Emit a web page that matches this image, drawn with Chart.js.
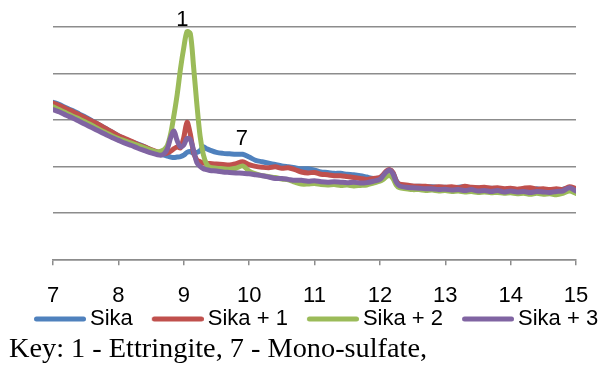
<!DOCTYPE html>
<html>
<head>
<meta charset="utf-8">
<script src="https://cdn.jsdelivr.net/npm/chart.js@4.4.1/dist/chart.umd.min.js"></script>
<style>
  html, body { margin: 0; padding: 0; background: #fff; }
  #wrap { position: relative; width: 607px; height: 365px; overflow: hidden; }
  #c { position: absolute; left: 0; top: 0; }
  #key { position: absolute; left: 9px; top: 334px; font-family: "Liberation Serif", "Times New Roman", serif;
         font-size: 28.3px; line-height: 28px; color: #000; white-space: nowrap; }
</style>
</head>
<body>
<div id="wrap">
  <canvas id="c" width="607" height="365"></canvas>
  <div id="key">Key: 1 - Ettringite, 7 - Mono-sulfate,</div>
</div>
<script>
// ---- data ----
const xValues = [
  7.0,7.1,7.2,7.3,7.4,7.5,7.6,7.7,7.8,7.9,8.0,8.1,8.2,8.3,8.4,8.5,8.6,
  8.65,8.7,8.75,8.8,8.85,8.9,8.95,9.0,9.05,9.1,9.15,9.2,9.25,9.3,9.35,
  9.4,9.5,9.6,9.7,9.8,9.9,10.0,10.1,10.2,10.3,10.4,10.5,10.6,10.7,10.8,10.9,11.0,11.1,11.2,11.3,11.4,11.5,11.6,11.7,11.8,11.9,12.0,
  12.05,12.1,12.15,12.2,12.25,
  12.3,12.4,12.5,12.6,12.7,12.8,12.9,13.0,13.1,13.2,13.3,13.4,13.5,13.6,13.7,13.8,13.9,14.0,14.1,14.2,14.3,14.4,14.5,14.6,14.7,14.8,14.9,15.0
];
const sika = [
  3.38,3.33,3.26,3.20,3.13,3.06,2.98,2.90,2.82,2.74,2.66,2.59,2.53,2.48,2.42,2.35,2.30,
  2.27,2.24,2.22,2.20,2.19,2.20,2.21,2.24,2.30,2.32,2.28,2.30,2.34,2.42,2.38,
  2.35,2.30,2.28,2.27,2.26,2.26,2.20,2.13,2.10,2.07,2.04,2.01,1.99,1.97,1.95,1.95,1.92,1.88,1.87,1.85,1.85,1.83,1.82,1.80,1.77,1.74,1.75,
  1.80,1.88,1.92,1.86,1.70,
  1.60,1.58,1.57,1.57,1.56,1.56,1.55,1.55,1.54,1.55,1.56,1.53,1.54,1.52,1.53,1.52,1.51,1.52,1.50,1.51,1.50,1.52,1.49,1.50,1.49,1.51,1.53,1.50
];
const sika1 = [
  3.36,3.31,3.24,3.18,3.11,3.04,2.97,2.90,2.82,2.74,2.66,2.60,2.54,2.47,2.42,2.36,2.31,
  2.28,2.27,2.29,2.33,2.38,2.42,2.40,2.62,2.95,2.70,2.30,2.14,2.10,2.07,2.06,
  2.06,2.05,2.04,2.03,2.06,2.10,2.04,2.00,1.98,1.97,1.99,1.96,1.97,1.93,1.88,1.86,1.87,1.83,1.82,1.80,1.80,1.78,1.76,1.74,1.72,1.74,1.76,
  1.82,1.90,1.93,1.87,1.68,
  1.62,1.60,1.58,1.57,1.57,1.55,1.56,1.55,1.56,1.54,1.57,1.55,1.54,1.55,1.53,1.54,1.52,1.53,1.51,1.53,1.54,1.51,1.52,1.50,1.52,1.50,1.56,1.52
];
const sika2 = [
  3.28,3.22,3.15,3.08,3.02,2.95,2.88,2.80,2.73,2.66,2.60,2.55,2.50,2.45,2.40,2.35,2.31,
  2.33,2.36,2.45,2.70,3.10,3.55,4.10,4.55,4.90,4.86,4.15,3.35,2.65,2.25,2.05,
  1.98,1.96,1.95,1.94,1.96,2.01,1.90,1.84,1.80,1.78,1.76,1.73,1.71,1.66,1.62,1.62,1.63,1.61,1.60,1.61,1.59,1.60,1.58,1.59,1.60,1.64,1.68,
  1.72,1.78,1.80,1.74,1.60,
  1.54,1.52,1.50,1.50,1.48,1.49,1.47,1.48,1.46,1.47,1.45,1.46,1.44,1.45,1.43,1.44,1.42,1.43,1.41,1.42,1.40,1.42,1.40,1.41,1.39,1.42,1.47,1.42
];
const sika3 = [
  3.22,3.17,3.10,3.04,2.97,2.90,2.83,2.76,2.69,2.62,2.56,2.50,2.45,2.39,2.34,2.29,2.25,
  2.24,2.27,2.38,2.62,2.76,2.55,2.42,2.46,2.60,2.58,2.35,2.08,2.00,1.95,1.93,
  1.91,1.90,1.88,1.87,1.86,1.85,1.84,1.82,1.80,1.77,1.74,1.74,1.72,1.70,1.70,1.68,1.69,1.67,1.66,1.67,1.66,1.65,1.66,1.64,1.65,1.68,1.72,
  1.80,1.88,1.92,1.84,1.66,
  1.58,1.55,1.54,1.53,1.52,1.52,1.50,1.51,1.49,1.50,1.48,1.50,1.47,1.48,1.46,1.48,1.45,1.47,1.45,1.46,1.44,1.46,1.45,1.44,1.46,1.47,1.54,1.47
];
const seriesNames = ['Sika', 'Sika + 1', 'Sika + 2', 'Sika + 3'];
const seriesColors = ['#4F81BD', '#C0504D', '#9BBB59', '#8064A2'];
const xTicks = [7, 8, 9, 10, 11, 12, 13, 14, 15];
const peakLabels = ['1', '7'];
const peakX = [8.98, 9.89];
const peakY = [5.19, 2.63];

// ---- build ----
const allSeries = [sika, sika1, sika2, sika3];
const datasets = allSeries.map((ys, i) => ({
  label: seriesNames[i],
  data: xValues.map((x, j) => ({ x: x, y: ys[j] })),
  borderColor: seriesColors[i],
  backgroundColor: seriesColors[i],
  borderWidth: 5,
  borderCapStyle: 'round',
  borderJoinStyle: 'round',
  pointRadius: 0,
  tension: 0.3,
  fill: false,
  order: allSeries.length - i
}));

// legend swatch: a short thick line, drawn as a point-style image
function legendSwatch(color) {
  const c = document.createElement('canvas');
  c.width = 76; c.height = 12;
  const g = c.getContext('2d');
  g.strokeStyle = color; g.lineWidth = 5; g.lineCap = 'round';
  g.beginPath(); g.moveTo(26.5, 6); g.lineTo(73.5, 6); g.stroke();
  return c;
}
const swatches = seriesColors.map(legendSwatch);

const peakLabelPlugin = {
  id: 'peakLabels',
  afterDraw(chart) {
    const ctx = chart.ctx;
    const xs = chart.scales.x, ys = chart.scales.y;
    ctx.save();
    ctx.font = '22px "Liberation Sans", Arial, sans-serif';
    ctx.fillStyle = '#000';
    ctx.textAlign = 'center';
    ctx.textBaseline = 'alphabetic';
    peakLabels.forEach((t, i) => {
      ctx.fillText(t, xs.getPixelForValue(peakX[i]), ys.getPixelForValue(peakY[i]) + 8);
    });
    ctx.restore();
  }
};

new Chart(document.getElementById('c'), {
  type: 'line',
  data: { datasets: datasets },
  plugins: [peakLabelPlugin],
  options: {
    responsive: false,
    animation: false,
    events: [],
    layout: { padding: { top: 27, bottom: 25, left: 15, right: 0 } },
    plugins: {
      tooltip: { enabled: false },
      legend: {
        position: 'bottom',
        align: 'start',
        labels: {
          usePointStyle: true,
          pointStyleWidth: 62,
          padding: 2,
          color: '#000',
          font: { family: '"Liberation Sans", Arial, sans-serif', size: 22 },
          generateLabels: chart => Chart.defaults.plugins.legend.labels.generateLabels(chart)
            .map(item => Object.assign(item, { pointStyle: swatches[item.datasetIndex] })),
          sort: (a, b) => a.datasetIndex - b.datasetIndex
        }
      }
    },
    scales: {
      x: {
        type: 'linear',
        min: 7, max: 15,
        afterBuildTicks: s => { s.ticks = xTicks.map(v => ({ value: v })); },
        afterFit: s => { s.height = 46.7; },
        ticks: {
          color: '#000',
          padding: 17,
          maxRotation: 0,
          font: { family: '"Liberation Sans", Arial, sans-serif', size: 22 }
        },
        grid: { drawOnChartArea: false, drawTicks: true, tickLength: 6, color: '#8c8c8c', lineWidth: 1.5 },
        border: { display: true, color: '#8c8c8c', width: 1.5 }
      },
      y: {
        min: 0, max: 5,
        ticks: { display: false, stepSize: 1 },
        grid: { drawTicks: false, color: '#8c8c8c', lineWidth: 1.5 },
        border: { display: false },
        afterFit: s => { s.width = 38; }
      },
      y2: {
        position: 'right',
        min: 0, max: 5,
        ticks: { display: false },
        grid: { display: false, drawTicks: false },
        border: { display: false },
        afterFit: s => { s.width = 31; }
      }
    }
  }
});
</script>
</body>
</html>
